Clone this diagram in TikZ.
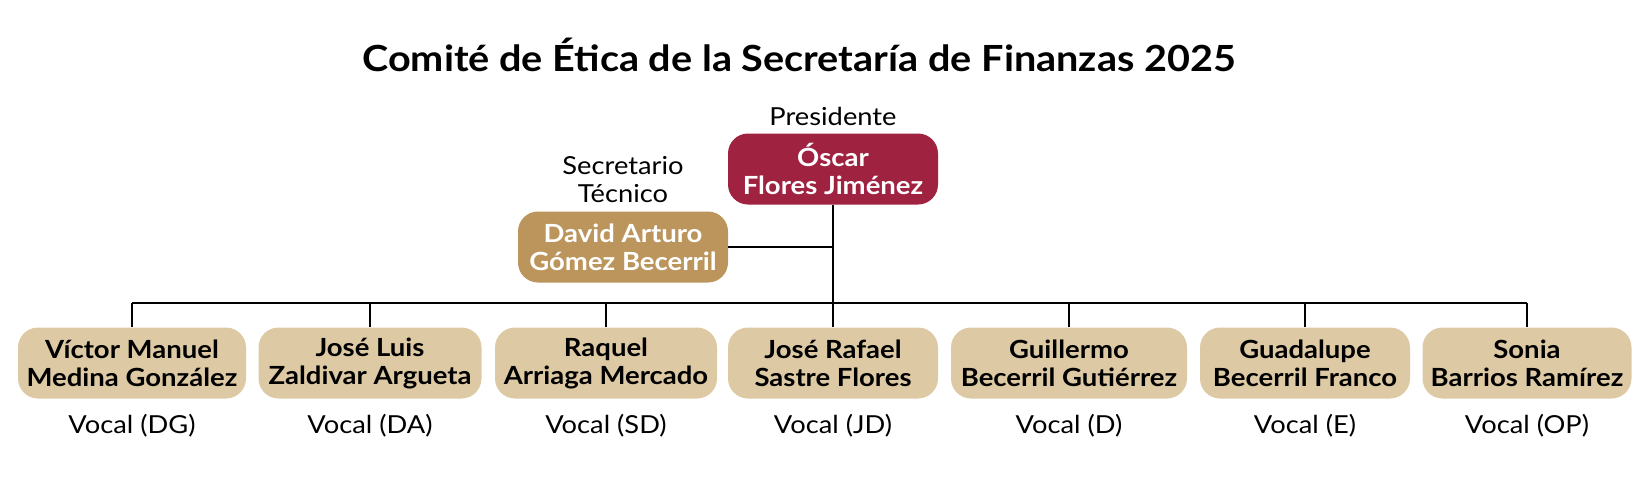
\documentclass[tikz,border=0pt]{standalone}
\usepackage{fontspec}
\setmainfont[FakeStretch=1.1]{Lato}
\usetikzlibrary{positioning}
\definecolor{guinda}{HTML}{9F2241}
\definecolor{dorado}{HTML}{BC955C}
\definecolor{beige}{HTML}{DDC9A3}
\tikzset{
  caja/.style={rounded corners=10pt, align=center, minimum height=35.5pt,
    minimum width=105pt, inner xsep=4pt, font=\fontsize{12.5}{14}\selectfont\bfseries},
  presidente/.style={caja, fill=guinda, text=white},
  secretario/.style={caja, fill=dorado, text=white},
  vocal/.style={caja, fill=beige, text=black},
  etiqueta/.style={align=center, font=\fontsize{12.4}{14}\selectfont},
  titulo/.style={font=\fontsize{18}{22}\selectfont\bfseries},
  linea/.style={line width=0.75pt}
}
\begin{document}
\begin{tikzpicture}[x=0.5pt, y=-0.5pt]
      \useasboundingbox (0,0) rectangle (1650,477);
      \node[titulo, anchor=base] (titulo) at (799,71)
        {Comité de Ética de la Secretaría de Finanzas 2025};
      \node[presidente] (pres) at (833,169) {Óscar\\Flores Jiménez};
      \node[etiqueta, anchor=base] (lblpres) at (833,125) {Presidente};
      \node[secretario] (sec) at (623,247) {David Arturo\\Gómez Becerril};
      \node[etiqueta] (lblsec) at (623,180) {Secretario\\Técnico};
      \coordinate (bus) at (833,303);
      \foreach \n/\x/\w/\nombre/\cargo in {
          1/132/228/{Víctor Manuel\\Medina González}/DG,
          2/370/223/{José Luis\\Zaldivar Argueta}/DA,
          3/606/222/{Raquel\\Arriaga Mercado}/SD,
          4/833/210/{José Rafael\\Sastre Flores}/JD,
          5/1069/236/{Guillermo\\Becerril Gutiérrez}/D,
          6/1305/210/{Guadalupe\\Becerril Franco}/E,
          7/1527/209/{Sonia\\Barrios Ramírez}/OP}
      {
        \node[vocal, minimum width=\w*0.5pt] (v\n) at (\x,363) {\nombre};
        \node[etiqueta, anchor=base] (c\n) at (\x,433) {Vocal (\cargo)};
      }
      \begin{scope}[linea]
        \draw (pres) -- (v4);
        \draw (sec) -- (sec -| pres);
        \draw (v1.north |- bus) -- (v7.north |- bus);
        \foreach \n in {1,2,3,5,6,7}
          \draw (v\n) -- (v\n.north |- bus);
      \end{scope}
    \end{tikzpicture}
\end{document}
